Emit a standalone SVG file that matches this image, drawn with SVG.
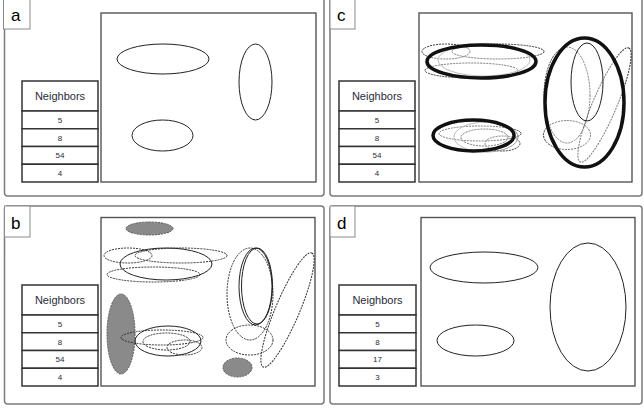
<svg xmlns="http://www.w3.org/2000/svg" width="644" height="408" viewBox="0 0 644 408">
<style>
.frame{fill:#fff;stroke:#7a7a7a;stroke-width:1.5}
.lbl{fill:#fff;stroke:#8a8a8a;stroke-width:1}
.lt{font-family:"Liberation Sans",Arial,sans-serif;font-size:17px;fill:#000}
.inner{fill:#fff;stroke:#555;stroke-width:1.4}
.tbl{fill:#fff;stroke:#333;stroke-width:1.5}
.th{font-family:"Liberation Sans",Arial,sans-serif;font-size:11px;fill:#2a2a3a;text-anchor:middle}
.td{font-family:"Liberation Sans",Arial,sans-serif;font-size:8px;fill:#2a2a3a;text-anchor:middle}
.sol{fill:none;stroke:#222;stroke-width:1}
.dash{fill:none;stroke:#333;stroke-width:1;stroke-dasharray:2 1}
.grayf{fill:#8a8a8a;stroke:#555;stroke-width:1;stroke-dasharray:2 1}
.gsol{fill:none;stroke:#999;stroke-width:1}
.thick{fill:#fff;fill-opacity:0.35;stroke:#111;stroke-width:3.5}
</style>

<!-- Panel a -->
<g id="panel-a">
  <rect class="frame" x="4.5" y="-4" width="319.5" height="200" rx="3"/>
  <rect class="lbl" x="3.5" y="-4" width="26.5" height="33"/>
  <text class="lt" x="11" y="21">a</text>
  <rect class="inner" x="101" y="13" width="215" height="169"/>
  <g id="table-a">
    <rect class="tbl" x="22" y="81" width="76" height="30"/>
    <rect class="tbl" x="22" y="111" width="76" height="17.75"/>
    <rect class="tbl" x="22" y="128.75" width="76" height="17.75"/>
    <rect class="tbl" x="22" y="146.5" width="76" height="17.75"/>
    <rect class="tbl" x="22" y="164.25" width="76" height="17.75"/>
    <text class="th" x="60" y="100">Neighbors</text>
    <text class="td" x="60" y="122.8">5</text>
    <text class="td" x="60" y="140.6">8</text>
    <text class="td" x="60" y="158.3">54</text>
    <text class="td" x="60" y="176.1">4</text>
  </g>
  <g id="a-e1"><ellipse class="sol" cx="163" cy="59" rx="46" ry="15"/></g>
  <g id="a-e2"><ellipse class="sol" cx="162.5" cy="135.5" rx="30.5" ry="15.5"/></g>
  <g id="a-e3"><ellipse class="sol" cx="255.5" cy="82" rx="16.5" ry="38"/></g>
</g>

<!-- Panel c -->
<g id="panel-c">
  <rect class="frame" x="330" y="-4" width="312" height="200" rx="3"/>
  <rect class="lbl" x="330" y="-4" width="25" height="33"/>
  <text class="lt" x="337" y="21">c</text>
  <rect class="inner" x="419" y="13" width="213" height="169"/>
  <g id="table-c">
    <rect class="tbl" x="339" y="81" width="76" height="30"/>
    <rect class="tbl" x="339" y="111" width="76" height="17.75"/>
    <rect class="tbl" x="339" y="128.75" width="76" height="17.75"/>
    <rect class="tbl" x="339" y="146.5" width="76" height="17.75"/>
    <rect class="tbl" x="339" y="164.25" width="76" height="17.75"/>
    <text class="th" x="377" y="100">Neighbors</text>
    <text class="td" x="377" y="122.8">5</text>
    <text class="td" x="377" y="140.6">8</text>
    <text class="td" x="377" y="158.3">54</text>
    <text class="td" x="377" y="176.1">4</text>
  </g>
  <g id="c-top">
    <ellipse class="dash" cx="446" cy="51.5" rx="24" ry="7.5"/>
    <ellipse class="dash" cx="498" cy="51.5" rx="46" ry="7.5"/>
    <ellipse class="dash" cx="471.5" cy="70.5" rx="46.5" ry="7.5"/>
    <ellipse class="gsol" cx="484" cy="60" rx="46" ry="16"/>
    <ellipse class="thick" cx="481.5" cy="61.5" rx="54.5" ry="16.5"/>
  </g>
  <g id="c-bottom">
    <ellipse class="dash" cx="480" cy="133.5" rx="41" ry="7.5"/>
    <ellipse class="dash" cx="484.5" cy="137.5" rx="23.5" ry="8.5"/>
    <ellipse class="dash" cx="502.5" cy="143.5" rx="17.5" ry="7.5"/>
    <ellipse class="gsol" cx="486" cy="137" rx="32" ry="15"/>
    <ellipse class="thick" cx="473.5" cy="135.5" rx="40.5" ry="15.5"/>
  </g>
  <g id="c-right">
    <ellipse class="dash" cx="567" cy="95" rx="23" ry="48"/>
    <ellipse class="dash" cx="567" cy="135" rx="23.5" ry="14.5"/>
    <ellipse class="dash" cx="0" cy="0" rx="62" ry="12" transform="translate(604.5 105) rotate(-67)"/>
    <ellipse class="thick" cx="584.5" cy="102.5" rx="39.5" ry="64.5"/>
    <ellipse class="sol" cx="587" cy="82" rx="16" ry="39"/>
  </g>
</g>

<!-- Panel b -->
<g id="panel-b">
  <rect class="frame" x="4.5" y="206" width="319.5" height="198" rx="3"/>
  <rect class="lbl" x="4.5" y="206" width="25.5" height="31"/>
  <text class="lt" x="11" y="229">b</text>
  <rect class="inner" x="101" y="217.5" width="214" height="168.5"/>
  <g id="table-b">
    <rect class="tbl" x="22" y="285" width="76" height="30"/>
    <rect class="tbl" x="22" y="315" width="76" height="17.75"/>
    <rect class="tbl" x="22" y="332.75" width="76" height="17.75"/>
    <rect class="tbl" x="22" y="350.5" width="76" height="17.75"/>
    <rect class="tbl" x="22" y="368.25" width="76" height="17.75"/>
    <text class="th" x="60" y="304">Neighbors</text>
    <text class="td" x="60" y="326.8">5</text>
    <text class="td" x="60" y="344.6">8</text>
    <text class="td" x="60" y="362.3">54</text>
    <text class="td" x="60" y="380.1">4</text>
  </g>
  <g id="b-gray-top"><ellipse class="grayf" cx="149.5" cy="228.5" rx="23.5" ry="6.5"/></g>
  <g id="b-top">
    <ellipse class="dash" cx="128" cy="255.5" rx="24" ry="7.5"/>
    <ellipse class="dash" cx="181" cy="255.5" rx="46" ry="7.5"/>
    <ellipse class="dash" cx="153.5" cy="274.5" rx="46.5" ry="7.5"/>
    <ellipse class="sol" cx="166" cy="264" rx="46" ry="16"/>
  </g>
  <g id="b-gray-left"><ellipse class="grayf" cx="121" cy="334" rx="14" ry="40"/></g>
  <g id="b-bottom">
    <ellipse class="dash" cx="162" cy="337.5" rx="41" ry="7.5"/>
    <ellipse class="dash" cx="166.5" cy="341.5" rx="23.5" ry="8.5"/>
    <ellipse class="dash" cx="184.5" cy="347.5" rx="17.5" ry="7.5"/>
    <ellipse class="sol" cx="168" cy="341" rx="33" ry="15"/>
  </g>
  <g id="b-right">
    <ellipse class="dash" cx="250" cy="294" rx="23" ry="46"/>
    <ellipse class="dash" cx="249.5" cy="340" rx="23.5" ry="15"/>
    <ellipse class="dash" cx="0" cy="0" rx="62" ry="12" transform="translate(287.5 310) rotate(-67)"/>
    <ellipse class="sol" cx="255.5" cy="286.5" rx="16.5" ry="38.5"/>
    <ellipse class="sol" cx="257" cy="286" rx="15.5" ry="38"/>
  </g>
  <g id="b-gray-bottom"><ellipse class="grayf" cx="237.5" cy="367.5" rx="14.5" ry="9.5"/></g>
</g>

<!-- Panel d -->
<g id="panel-d">
  <rect class="frame" x="330" y="206" width="312" height="198" rx="3"/>
  <rect class="lbl" x="330" y="206" width="25" height="31"/>
  <text class="lt" x="337" y="229">d</text>
  <rect class="inner" x="421" y="217.5" width="214" height="168.5"/>
  <g id="table-d">
    <rect class="tbl" x="339" y="285" width="77" height="30"/>
    <rect class="tbl" x="339" y="315" width="77" height="17.75"/>
    <rect class="tbl" x="339" y="332.75" width="77" height="17.75"/>
    <rect class="tbl" x="339" y="350.5" width="77" height="17.75"/>
    <rect class="tbl" x="339" y="368.25" width="77" height="17.75"/>
    <text class="th" x="377.5" y="304">Neighbors</text>
    <text class="td" x="377.5" y="326.8">5</text>
    <text class="td" x="377.5" y="344.6">8</text>
    <text class="td" x="377.5" y="362.3">17</text>
    <text class="td" x="377.5" y="380.1">3</text>
  </g>
  <g id="d-e1"><ellipse class="sol" cx="484" cy="267.5" rx="54" ry="15.5"/></g>
  <g id="d-e2"><ellipse class="sol" cx="475.5" cy="340.5" rx="38.5" ry="15.5"/></g>
  <g id="d-e3"><ellipse class="sol" cx="588" cy="307" rx="38" ry="64"/></g>
</g>

<g id="connectors"></g>
</svg>
